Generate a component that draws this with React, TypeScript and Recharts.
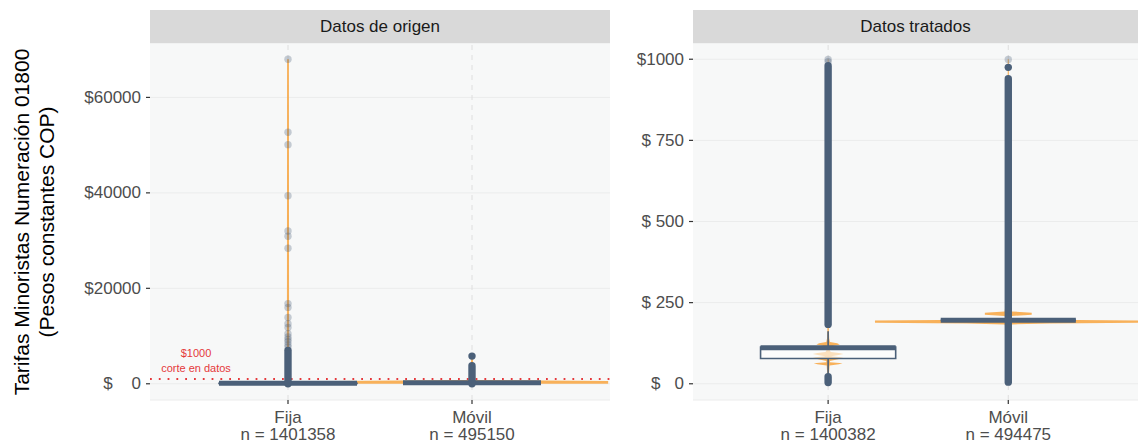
import React from 'react';
import {
  ComposedChart,
  Scatter,
  XAxis,
  YAxis,
  CartesianGrid,
  ReferenceLine,
} from 'recharts';

// ---------------- DATA ----------------
const categories = ['Fija', 'Móvil'];
const panelTitles = ['Datos de origen', 'Datos tratados'];
const nOrigen = [1401358, 495150];
const nTratados = [1400382, 494475];

const yTicksOrigen = [0, 20000, 40000, 60000];
const yTicksTratados = [0, 250, 500, 750, 1000];
const yDomainOrigen = [-3400, 71400];
const yDomainTratados = [-50, 1050];

// box statistics per category (Fija, Móvil)
const boxQ1 = [78, 196];
const boxMedian = [111, 196];
const boxQ3 = [113, 196];
const whiskerLow = [30, 196];
const whiskerHigh = [162, 196];

// dense (overplotted) outlier ranges
const denseOrigenFija = [[4, 22], [183, 7000]];
const denseOrigenMovil = [[5, 3800]];
const denseTratadosFija = [[4, 22], [183, 980]];
const denseTratadosMovil = [[5, 940]];

// isolated outliers
const sparseOrigenFija = [7700, 8200, 8800, 9300, 9800, 10500, 11800, 12600, 13900, 16000, 16800, 28400, 30900, 32000, 39400, 50100, 52700, 68000];
const sparseOrigenMovil: number[] = [];
const solidOrigenMovil = [5800];
const solidOrigenFija: number[] = [];
const sparseTratadosFija = [992, 999];
const solidTratadosFija: number[] = [];
const sparseTratadosMovil = [999];
const solidTratadosMovil = [975];

// violin profiles: values and half widths
const violinOrigenFijaY = [0, 400, 520, 68000];
const violinOrigenFijaW = [0.1, 0.1, 0.006, 0.005];
const violinOrigenMovilY = [0, 100, 600, 800, 5800];
const violinOrigenMovilW = [0.74, 0.74, 0.74, 0.01, 0.004];
const violinTratadosFijaY = [0, 30, 56, 60, 63, 66, 70, 76, 79, 82, 85, 88, 92, 95, 98, 102, 110, 117, 121, 125, 129, 140, 165, 1000];
const violinTratadosFijaW = [0.003, 0.005, 0.008, 0.06, 0.08, 0.01, 0.01, 0.06, 0.09, 0.07, 0.015, 0.05, 0.085, 0.06, 0.015, 0.01, 0.01, 0.03, 0.065, 0.05, 0.01, 0.006, 0.004, 0.002];
const violinTratadosMovilY = [0, 150, 183, 186, 188, 195, 198, 201, 209, 213, 219, 223, 300, 1000];
const violinTratadosMovilW = [0.003, 0.005, 0.02, 0.23, 0.74, 0.74, 0.02, 0.015, 0.02, 0.13, 0.13, 0.02, 0.005, 0.003];

// cut-off annotation
const cutValue = 1000;
const cutLabels = ['$1000', 'corte en datos'];
const cutLabelX = 0.5;
const cutLabelY = [6500, 3400];

// ---------------- STYLE ----------------
const FONT = '"Liberation Sans", Arial, Helvetica, sans-serif';
const DARK = '#4b6079';
const ORANGE = '#f7a848';
const RED = '#e5383b';
const PANEL_BG = '#f7f8f8';
const GRID = '#ebecec';
const STRIP = '#d9d9d9';
const BOX_HALF = 0.375;
const TICK_FS = 17;

type Pt = { x: number; y: number; label?: string };

const noShape = () => <g />;

const polyFill = (fill: string, opacity: number, stroke = 'none', sw = 0) => (p: any) => (
  <polygon
    points={(p.points || []).map((pt: any) => `${pt.x},${pt.y}`).join(' ')}
    fill={fill}
    fillOpacity={opacity}
    stroke={stroke}
    strokeWidth={sw}
  />
);

const polyLine = (stroke: string, sw: number, cap: 'round' | 'butt', dash?: string) => (p: any) => (
  <polyline
    points={(p.points || []).map((pt: any) => `${pt.x},${pt.y}`).join(' ')}
    fill="none"
    stroke={stroke}
    strokeWidth={sw}
    strokeLinecap={cap}
    strokeDasharray={dash}
  />
);

const violinPts = (c: number, ys: number[], ws: number[]): Pt[] => {
  const right = ys.map((v, i) => ({ x: c + ws[i], y: v }));
  const left = ys.map((v, i) => ({ x: c - ws[i], y: v })).reverse();
  return right.concat(left);
};

const dotShape = (opacity: number) => (p: any) => (
  <circle cx={p.cx} cy={p.cy} r={3.7} fill={DARK} fillOpacity={opacity} />
);

const yTickFactory = (ticks: number[]) => {
  const len = Math.max(...ticks.map((t) => String(t).length));
  return (props: any) => {
    const v = props.payload.value;
    const s = '$' + String(v).padStart(len, ' ');
    return (
      <text
        x={props.x}
        y={props.y}
        textAnchor="end"
        dominantBaseline="central"
        fill="#4d4d4d"
        fontSize={TICK_FS}
        fontFamily={FONT}
        xmlSpace="preserve"
        style={{ whiteSpace: 'pre' }}
      >
        {s}
      </text>
    );
  };
};

const xTickFactory = (ns: number[]) => (props: any) => {
  const i = Math.round(props.payload.value) - 1;
  return (
    <text x={props.x} y={props.y} textAnchor="middle" fill="#4d4d4d" fontSize={TICK_FS} fontFamily={FONT}>
      <tspan x={props.x} dy={17}>{categories[i]}</tspan>
      <tspan x={props.x} dy={17}>{`n = ${ns[i]}`}</tspan>
    </text>
  );
};

const cutLabelShape = (p: any) => (
  <text x={p.cx} y={p.cy} textAnchor="middle" dominantBaseline="central" fill={RED} fontSize={11} fontFamily={FONT}>
    {p.payload.label}
  </text>
);

function seriesFor(
  key: string,
  yDomain: number[],
  violY: number[][],
  violW: number[][],
  dense: number[][][],
  sparse: number[][],
  solid: number[][]
) {
  const els: React.ReactNode[] = [];
  // dashed vertical grid lines at each category
  categories.forEach((_, i) => {
    const c = i + 1;
    els.push(
      <Scatter
        key={`${key}-vgrid-${i}`}
        data={[{ x: c, y: yDomain[0] }, { x: c, y: yDomain[1] }]}
        shape={noShape}
        line={polyLine('#dedede', 1, 'butt', '5 5')}
        lineType="joint"
        isAnimationActive={false}
      />
    );
  });
  // violins
  categories.forEach((_, i) => {
    const c = i + 1;
    els.push(
      <Scatter
        key={`${key}-viol-${i}`}
        data={violinPts(c, violY[i], violW[i])}
        shape={noShape}
        line={polyFill(ORANGE, 0.9)}
        lineType="joint"
        isAnimationActive={false}
      />
    );
  });
  // whiskers, boxes, medians
  categories.forEach((_, i) => {
    const c = i + 1;
    els.push(
      <Scatter
        key={`${key}-wh-lo-${i}`}
        data={[{ x: c, y: whiskerLow[i] }, { x: c, y: boxQ1[i] }]}
        shape={noShape}
        line={polyLine(DARK, 1.6, 'butt')}
        lineType="joint"
        isAnimationActive={false}
      />
    );
    els.push(
      <Scatter
        key={`${key}-wh-hi-${i}`}
        data={[{ x: c, y: boxQ3[i] }, { x: c, y: whiskerHigh[i] }]}
        shape={noShape}
        line={polyLine(DARK, 1.6, 'butt')}
        lineType="joint"
        isAnimationActive={false}
      />
    );
    els.push(
      <Scatter
        key={`${key}-box-${i}`}
        data={[
          { x: c - BOX_HALF, y: boxQ1[i] },
          { x: c + BOX_HALF, y: boxQ1[i] },
          { x: c + BOX_HALF, y: boxQ3[i] },
          { x: c - BOX_HALF, y: boxQ3[i] },
        ]}
        shape={noShape}
        line={polyFill('#ffffff', 0.6, DARK, 1.6)}
        lineType="joint"
        isAnimationActive={false}
      />
    );
    els.push(
      <Scatter
        key={`${key}-med-${i}`}
        data={[{ x: c - BOX_HALF, y: boxMedian[i] }, { x: c + BOX_HALF, y: boxMedian[i] }]}
        shape={noShape}
        line={polyLine(DARK, 5, 'butt')}
        lineType="joint"
        isAnimationActive={false}
      />
    );
  });
  // dense outlier ranges
  categories.forEach((_, i) => {
    const c = i + 1;
    dense[i].forEach((r, j) => {
      els.push(
        <Scatter
          key={`${key}-dense-${i}-${j}`}
          data={[{ x: c, y: r[0] }, { x: c, y: r[1] }]}
          shape={noShape}
          line={polyLine(DARK, 7.4, 'round')}
          lineType="joint"
          isAnimationActive={false}
        />
      );
    });
  });
  // isolated outliers
  categories.forEach((_, i) => {
    const c = i + 1;
    if (sparse[i].length)
      els.push(
        <Scatter
          key={`${key}-sparse-${i}`}
          data={sparse[i].map((v) => ({ x: c, y: v }))}
          shape={dotShape(0.3)}
          isAnimationActive={false}
        />
      );
    if (solid[i].length)
      els.push(
        <Scatter
          key={`${key}-solid-${i}`}
          data={solid[i].map((v) => ({ x: c, y: v }))}
          shape={dotShape(1)}
          isAnimationActive={false}
        />
      );
  });
  return els;
}

const PLOT_TOP = 43;
const X_AXIS_H = 44;

export default function App() {
  return (
    <div
      style={{
        position: 'absolute',
        left: 0,
        top: 0,
        width: 1138,
        height: 444,
        overflow: 'hidden',
        background: '#ffffff',
        fontFamily: FONT,
      }}
    >
      {/* Left panel */}
      <div style={{ position: 'absolute', left: 0, top: 0 }}>
        <ComposedChart width={612} height={444} margin={{ top: PLOT_TOP, right: 2, bottom: 0, left: 0 }}>
          <CartesianGrid horizontal={true} vertical={false} stroke={GRID} fill={PANEL_BG} />
          <XAxis
            type="number"
            dataKey="x"
            domain={[0.25, 2.75]}
            ticks={[1, 2]}
            interval={0}
            allowDataOverflow
            axisLine={false}
            tickSize={4}
            tickMargin={2}
            tickLine={{ stroke: '#333333', strokeWidth: 1.2 }}
            tick={xTickFactory(nOrigen)}
            height={X_AXIS_H}
          />
          <YAxis
            type="number"
            dataKey="y"
            domain={yDomainOrigen}
            ticks={yTicksOrigen}
            interval={0}
            allowDataOverflow
            axisLine={false}
            tickSize={4}
            tickMargin={5}
            tickLine={{ stroke: '#333333', strokeWidth: 1.2 }}
            tick={yTickFactory(yTicksOrigen)}
            width={150}
          />
          {seriesFor(
            'o',
            yDomainOrigen,
            [violinOrigenFijaY, violinOrigenMovilY],
            [violinOrigenFijaW, violinOrigenMovilW],
            [denseOrigenFija, denseOrigenMovil],
            [sparseOrigenFija, sparseOrigenMovil],
            [solidOrigenFija, solidOrigenMovil]
          )}
          <ReferenceLine
            y={cutValue}
            stroke={RED}
            strokeWidth={1.8}
            strokeDasharray="1.8 7"
            ifOverflow="hidden"
          />
          <Scatter
            data={cutLabels.map((l, i) => ({ x: cutLabelX, y: cutLabelY[i], label: l }))}
            shape={cutLabelShape}
            isAnimationActive={false}
          />
        </ComposedChart>
      </div>

      {/* Right panel */}
      <div style={{ position: 'absolute', left: 612, top: 0 }}>
        <ComposedChart width={526} height={444} margin={{ top: PLOT_TOP, right: 0, bottom: 0, left: 0 }}>
          <CartesianGrid horizontal={true} vertical={false} stroke={GRID} fill={PANEL_BG} />
          <XAxis
            type="number"
            dataKey="x"
            domain={[0.25, 2.72]}
            ticks={[1, 2]}
            interval={0}
            allowDataOverflow
            axisLine={false}
            tickSize={4}
            tickMargin={2}
            tickLine={{ stroke: '#333333', strokeWidth: 1.2 }}
            tick={xTickFactory(nTratados)}
            height={X_AXIS_H}
          />
          <YAxis
            type="number"
            dataKey="y"
            domain={yDomainTratados}
            ticks={yTicksTratados}
            interval={0}
            allowDataOverflow
            axisLine={false}
            tickSize={4}
            tickMargin={5}
            tickLine={{ stroke: '#333333', strokeWidth: 1.2 }}
            tick={yTickFactory(yTicksTratados)}
            width={81}
          />
          {seriesFor(
            't',
            yDomainTratados,
            [violinTratadosFijaY, violinTratadosMovilY],
            [violinTratadosFijaW, violinTratadosMovilW],
            [denseTratadosFija, denseTratadosMovil],
            [sparseTratadosFija, sparseTratadosMovil],
            [solidTratadosFija, solidTratadosMovil]
          )}
        </ComposedChart>
      </div>

      {/* Strips */}
      <div
        style={{
          position: 'absolute',
          left: 150,
          top: 10,
          width: 460,
          height: 33,
          background: STRIP,
          display: 'flex',
          alignItems: 'center',
          justifyContent: 'center',
          fontSize: 17,
          color: '#1a1a1a',
        }}
      >
        {panelTitles[0]}
      </div>
      <div
        style={{
          position: 'absolute',
          left: 693,
          top: 10,
          width: 445,
          height: 33,
          background: STRIP,
          display: 'flex',
          alignItems: 'center',
          justifyContent: 'center',
          fontSize: 17,
          color: '#1a1a1a',
        }}
      >
        {panelTitles[1]}
      </div>

      {/* Y axis title */}
      <svg
        width={70}
        height={444}
        style={{ position: 'absolute', left: 0, top: 0, pointerEvents: 'none' }}
      >
        <text
          transform="translate(21,222) rotate(-90)"
          textAnchor="middle"
          dominantBaseline="central"
          fontSize={21}
          fontFamily={FONT}
          fill="#000000"
        >
          Tarifas Minoristas Numeración 01800
        </text>
        <text
          transform="translate(46,222) rotate(-90)"
          textAnchor="middle"
          dominantBaseline="central"
          fontSize={21}
          fontFamily={FONT}
          fill="#000000"
        >
          (Pesos constantes COP)
        </text>
      </svg>
    </div>
  );
}
